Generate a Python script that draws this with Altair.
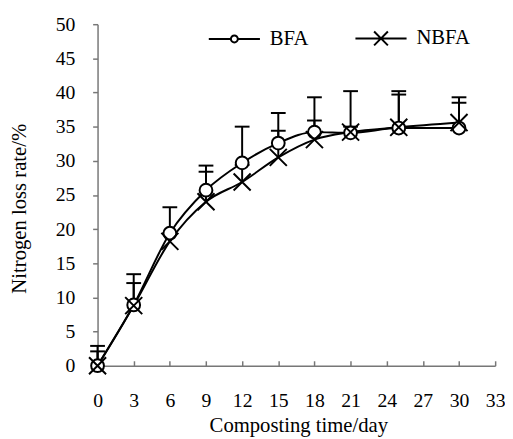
import altair as alt
import pandas as pd

# ---- data ----
days = [0, 3, 6, 9, 12, 15, 18, 21, 25, 30]
bfa_values = [0, 8.9, 19.4, 25.7, 29.7, 32.6, 34.2, 34.1, 34.8, 34.8]
bfa_errors = [2.9, 4.5, 3.8, 3.6, 5.3, 4.4, 5.1, 6.1, 5.4, 4.5]
nbfa_values = [0, 8.8, 18.2, 24.0, 26.9, 30.5, 33.1, 34.2, 34.9, 35.6]
nbfa_errors = [2.1, 3.3, 1.2, 4.4, 2.5, 3.9, 2.8, 0.8, 4.8, 2.9]
series_names = ["BFA", "NBFA"]
x_ticks = list(range(0, 34, 3))
y_ticks = list(range(0, 51, 5))

rows = []
for name, vals, errs in [("BFA", bfa_values, bfa_errors), ("NBFA", nbfa_values, nbfa_errors)]:
    for d, v, e in zip(days, vals, errs):
        rows.append({"series": name, "day": d, "value": v, "err": e})
df = pd.DataFrame(rows)

FONT = "Liberation Serif"
W, H = 404, 347

PATH_X = "M-1,-1L1,1M-1,1L1,-1"
LEG_B = ("M-1,0L-0.135,0M0.135,0L1,0M-0.135,0A0.135,0.135,0,1,1,0.135,0"
         "A0.135,0.135,0,1,1,-0.135,0Z")
LEG_N = "M-1,0L1,0M-0.27,-0.27L0.27,0.27M-0.27,0.27L0.27,-0.27"

xscale = alt.Scale(domain=[0, 33], nice=False, zero=False)
yscale = alt.Scale(domain=[0, 50], nice=False)

y_axis = alt.Axis(values=y_ticks, grid=False, tickSize=5, labelPadding=18,
                  labelFlush=False,
                  title="Nitrogen loss rate/%", titleX=-79, titleY=187,
                  titleAngle=270, titleBaseline="middle", titleAlign="center")
x_bottom = alt.Axis(values=x_ticks, grid=False, ticks=False, tickSize=0,
                    labelPadding=25, labelFlush=False,
                    title="Composting time/day",
                    titleX=204, titleY=67, titleBaseline="alphabetic",
                    titleAlign="center")
x_top = alt.Axis(orient="top", offset=-H, values=x_ticks, grid=False,
                 labels=False, domain=False, ticks=True, tickSize=5)

base = alt.Chart(df)
with_upper = base.transform_calculate(upper="datum.value + datum.err")

err_rule = with_upper.mark_rule(color="black", strokeWidth=2).encode(
    x=alt.X("day:Q", scale=xscale, axis=None),
    y=alt.Y("value:Q", scale=yscale, axis=y_axis),
    y2="upper:Q",
)
err_cap = with_upper.mark_tick(color="black", thickness=2, size=15,
                               orient="horizontal", opacity=1).encode(
    x=alt.X("day:Q", scale=xscale, axis=None),
    y=alt.Y("upper:Q", scale=yscale, axis=y_axis),
)
lines = base.mark_line(color="black", strokeWidth=2, interpolate="monotone").encode(
    x=alt.X("day:Q", scale=xscale, axis=x_bottom),
    y=alt.Y("value:Q", scale=yscale, axis=y_axis),
    detail="series:N",
)
bfa_pts = base.transform_filter("datum.series == 'BFA'").mark_point(
    shape="circle", size=169, filled=True, fill="white", stroke="black",
    strokeWidth=2, opacity=1).encode(
    x=alt.X("day:Q", scale=xscale, axis=None),
    y=alt.Y("value:Q", scale=yscale, axis=y_axis),
)
nbfa_pts = base.transform_filter("datum.series == 'NBFA'").mark_point(
    shape=PATH_X, size=300, filled=False, stroke="black",
    strokeWidth=2, opacity=1).encode(
    x=alt.X("day:Q", scale=xscale, axis=x_top, title=None),
    y=alt.Y("value:Q", scale=yscale, axis=y_axis),
)
legend_layer = base.transform_filter("datum.day < 0").mark_point(
    filled=False, stroke="black", strokeWidth=2, opacity=1, size=2700).encode(
    shape=alt.Shape("series:N",
                    scale=alt.Scale(domain=series_names, range=[LEG_B, LEG_N]),
                    legend=alt.Legend(title=None, orient="none", legendX=112,
                                      legendY=-13, direction="horizontal",
                                      labelFont=FONT, labelFontSize=21,
                                      labelColor="black", labelOffset=9,
                                      columnPadding=43, symbolSize=2700,
                                      symbolStrokeWidth=2,
                                      symbolStrokeColor="black",
                                      padding=0, rowPadding=0)),
)

chart = alt.layer(err_rule, err_cap, lines, bfa_pts, nbfa_pts, legend_layer).resolve_axis(
    x="independent"
).properties(
    width=W, height=H,
    autosize=alt.AutoSizeParams(type="none"),
    padding={"left": 91, "top": 13, "right": 10, "bottom": 71},
).configure_view(stroke=None).configure_axis(
    labelFont=FONT, titleFont=FONT, labelFontSize=20, titleFontSize=21,
    labelColor="black", titleColor="black", titleFontWeight="normal",
    domainColor="#777", tickColor="#777", domainWidth=1.5, tickWidth=1.5,
)

chart.save("out.html", embed_options={"renderer": "svg", "actions": False})
